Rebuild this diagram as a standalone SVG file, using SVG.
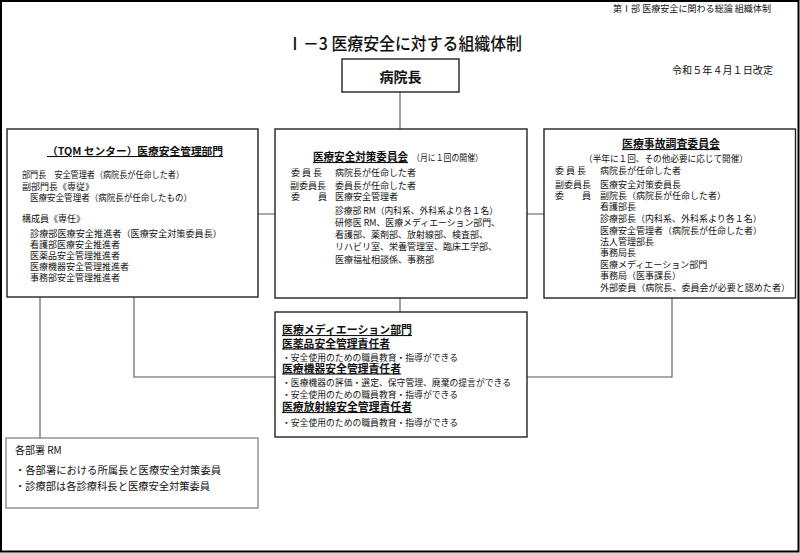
<svg xmlns="http://www.w3.org/2000/svg" width="800" height="553" viewBox="0 0 800 553">
<style>
text{font-family:"Noto Sans CJK JP","Noto Sans",sans-serif;fill:#111}
.box{fill:#fff;stroke:#222;stroke-width:1.4}
.rm{fill:#fff;stroke:#777;stroke-width:1.2}
.ln{fill:none;stroke:#555;stroke-width:1.1}
.t9{font-size:9px}
.t85{font-size:8.6px}
.t10{font-size:10px}
.h11{font-size:10.8px;font-weight:bold;text-decoration:underline}
.h10{font-size:10.5px;font-weight:bold;text-decoration:underline}
</style>
<rect x="1" y="1" width="797.5" height="550.5" fill="#fff" stroke="#000" stroke-width="2"/>
<text class="t9" x="613" y="12" textLength="158" lengthAdjust="spacingAndGlyphs">第Ⅰ部 医療安全に関わる総論 組織体制</text>
<text x="287" y="50" font-size="17.5" font-weight="500" textLength="235" lengthAdjust="spacingAndGlyphs">Ⅰ－3 医療安全に対する組織体制</text>
<text class="t10" x="672" y="74" textLength="101" lengthAdjust="spacingAndGlyphs">令和５年４月１日改定</text>
<g id="connectors">
<path class="ln" d="M400 92V129M258 214H275M527 214H544M40 297V438M134 297V377H275M672 298V377H527M400 298V312"/>
</g>
<g id="director">
<rect class="box" x="342" y="59" width="117" height="33"/>
<text x="400.5" y="82" font-size="14" font-weight="bold" text-anchor="middle">病院長</text>
</g>
<g id="safety-dept">
<rect class="box" x="7" y="129" width="251" height="168"/>
<text class="h10" x="47" y="155" textLength="176" lengthAdjust="spacingAndGlyphs">（TQM センター）医療安全管理部門</text>
<text class="t9" x="22" y="178" textLength="162" lengthAdjust="spacingAndGlyphs">部門長　安全管理者（病院長が任命した者）</text>
<text class="t9" x="22" y="190">副部門長《専従》</text>
<text class="t9" x="30" y="201" textLength="162" lengthAdjust="spacingAndGlyphs">医療安全管理者（病院長が任命したもの）</text>
<text class="t9" x="22" y="222">構成員《専任》</text>
<text class="t9" x="30" y="237" textLength="192" lengthAdjust="spacingAndGlyphs">診療部医療安全推進者（医療安全対策委員長）</text>
<text class="t9" x="30" y="248">看護部医療安全推進者</text>
<text class="t9" x="30" y="259">医薬品安全管理推進者</text>
<text class="t9" x="30" y="270">医療機器安全管理推進者</text>
<text class="t9" x="30" y="281">事務部安全管理推進者</text>
</g>
<g id="safety-committee">
<rect class="box" x="275" y="129" width="252" height="169"/>
<text class="h11" x="313" y="161" textLength="95" lengthAdjust="spacingAndGlyphs">医療安全対策委員会</text>
<text class="t85" x="412" y="160.5" textLength="71" lengthAdjust="spacingAndGlyphs">（月に１回の開催）</text>
<text class="t9" x="291" y="175.5">委 員 長</text>
<text class="t9" x="335" y="175.5">病院長が任命した者</text>
<text class="t9" x="290" y="189">副委員長</text>
<text class="t9" x="335" y="189">委員長が任命した者</text>
<text class="t9" x="291" y="200">委　　員</text>
<text class="t9" x="335" y="200">医療安全管理者</text>
<text class="t9" x="335" y="214" textLength="163" lengthAdjust="spacingAndGlyphs">診療部 RM（内科系、外科系より各１名）</text>
<text class="t9" x="335" y="226" textLength="165" lengthAdjust="spacingAndGlyphs">研修医 RM、医療メディエーション部門、</text>
<text class="t9" x="335" y="238">看護部、薬剤部、放射線部、検査部、</text>
<text class="t9" x="335" y="250">リハビリ室、栄養管理室、臨床工学部、</text>
<text class="t9" x="335" y="263">医療福祉相談係、事務部</text>
</g>
<g id="accident-committee">
<rect class="box" x="544" y="129" width="251.5" height="169"/>
<text class="h11" x="622" y="148" textLength="98" lengthAdjust="spacingAndGlyphs">医療事故調査委員会</text>
<text class="t9" x="584" y="161.5" textLength="164" lengthAdjust="spacingAndGlyphs">（半年に１回、その他必要に応じて開催）</text>
<text class="t9" x="555" y="174">委 員 長</text>
<text class="t9" x="600" y="174">病院長が任命した者</text>
<text class="t9" x="555" y="188">副委員長</text>
<text class="t9" x="600" y="188">医療安全対策委員長</text>
<text class="t9" x="555" y="199">委　　員</text>
<text class="t9" x="600" y="199">副院長（病院長が任命した者）</text>
<text class="t9" x="600" y="210">看護部長</text>
<text class="t9" x="600" y="221.5">診療部長（内科系、外科系より各１名）</text>
<text class="t9" x="600" y="233.5">医療安全管理者（病院長が任命した者）</text>
<text class="t9" x="600" y="245">法人管理部長</text>
<text class="t9" x="600" y="256">事務局長</text>
<text class="t9" x="600" y="267.5">医療メディエーション部門</text>
<text class="t9" x="600" y="279">事務局（医事課長）</text>
<text class="t9" x="600" y="291" textLength="190" lengthAdjust="spacingAndGlyphs">外部委員（病院長、委員会が必要と認めた者）</text>
</g>
<g id="mediation">
<rect class="box" x="275" y="312" width="252" height="125"/>
<text class="h11" x="282" y="334" textLength="130" lengthAdjust="spacingAndGlyphs">医療メディエーション部門</text>
<text class="h11" x="282" y="347.5" textLength="108" lengthAdjust="spacingAndGlyphs">医薬品安全管理責任者</text>
<text class="t85" x="282" y="360.5" textLength="176" lengthAdjust="spacingAndGlyphs">・安全使用のための職員教育・指導ができる</text>
<text class="h11" x="282" y="372.5" textLength="119" lengthAdjust="spacingAndGlyphs">医療機器安全管理責任者</text>
<text class="t85" x="282" y="385.5" textLength="229" lengthAdjust="spacingAndGlyphs">・医療機器の評価・選定、保守管理、廃棄の提言ができる</text>
<text class="t85" x="282" y="398" textLength="176" lengthAdjust="spacingAndGlyphs">・安全使用のための職員教育・指導ができる</text>
<text class="h11" x="282" y="411" textLength="130" lengthAdjust="spacingAndGlyphs">医療放射線安全管理責任者</text>
<text class="t85" x="282" y="425.5" textLength="176" lengthAdjust="spacingAndGlyphs">・安全使用のための職員教育・指導ができる</text>
</g>
<g id="department-rm">
<rect class="rm" x="6" y="438" width="252" height="70"/>
<text class="t10" x="15" y="454">各部署 RM</text>
<text class="t10" x="15" y="473.5" textLength="206" lengthAdjust="spacingAndGlyphs">・各部署における所属長と医療安全対策委員</text>
<text class="t10" x="15" y="490" textLength="195" lengthAdjust="spacingAndGlyphs">・診療部は各診療科長と医療安全対策委員</text>
</g>
</svg>
